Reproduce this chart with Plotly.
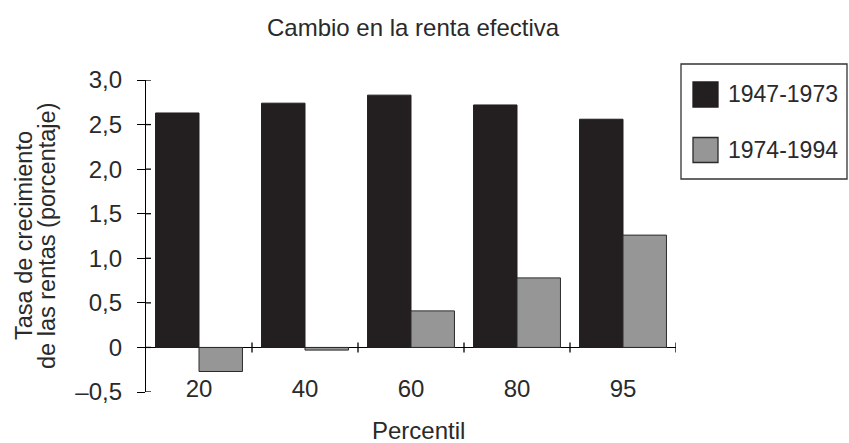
import plotly.graph_objects as go

# Income growth by percentile, two periods
percentiles = ["20", "40", "60", "80", "95"]
series_names = ["1947-1973", "1974-1994"]
growth_1947_1973 = [2.63, 2.74, 2.83, 2.72, 2.56]
growth_1974_1994 = [-0.27, -0.03, 0.41, 0.78, 1.26]

y_ticks = [-0.5, 0, 0.5, 1.0, 1.5, 2.0, 2.5, 3.0]
y_tick_text = ["\u20130,5", "0", "0,5", "1,0", "1,5", "2,0", "2,5", "3,0"]

title_text = "Cambio en la renta efectiva"
x_title = "Percentil"
y_title_lines = ["Tasa de crecimiento", "de las rentas (porcentaje)"]

W, H = 849, 443
L, R, T, B = 146, 173, 80, 51
PW, PH = W - L - R, H - T - B

FONT = "Liberation Sans, Arial, sans-serif"
TXT = "#2a2a2a"
BLACK = "#231f20"
GRAY = "#969696"
EDGE = "#2b2b2b"
FS = 24


def px(x):
    return (x - L) / PW


def py(y):
    return (H - B - y) / PH


xs = list(range(len(percentiles)))

fig = go.Figure()
fig.add_trace(go.Bar(
    x=xs, y=growth_1947_1973, name=series_names[0],
    marker=dict(color=BLACK, line=dict(color=BLACK, width=1)),
    showlegend=False,
))
fig.add_trace(go.Bar(
    x=xs, y=growth_1974_1994, name=series_names[1],
    marker=dict(color=GRAY, line=dict(color=EDGE, width=1)),
    showlegend=False,
))

shapes = []
# category boundary ticks crossing the zero line
for i in range(len(percentiles)):
    shapes.append(dict(
        type="line", xref="x", yref="y", ysizemode="pixel", yanchor=0,
        x0=i + 0.5, x1=i + 0.5, y0=-5, y1=5,
        line=dict(color="black", width=1.3),
    ))
# inner stubs of the value-axis ticks
for v in y_ticks:
    shapes.append(dict(
        type="line", xref="x", yref="y", xsizemode="pixel", xanchor=-0.5,
        x0=0, x1=5, y0=v, y1=v,
        line=dict(color="black", width=1.3),
    ))

# legend frame and swatches
shapes.append(dict(
    type="rect", xref="paper", yref="paper",
    x0=px(681), x1=px(847), y0=py(179), y1=py(64),
    line=dict(color="#333333", width=1.3), fillcolor="white",
))
annotations = []
swatch_colors = [BLACK, GRAY]
entry_y = [94.5, 150]
for name, col, cy in zip(series_names, swatch_colors, entry_y):
    shapes.append(dict(
        type="rect", xref="paper", yref="paper",
        x0=px(693), x1=px(718), y0=py(cy + 12.5), y1=py(cy - 12.5),
        line=dict(color=EDGE if col == GRAY else BLACK, width=1.3), fillcolor=col,
    ))
    annotations.append(dict(
        text=name, xref="paper", yref="paper", x=px(726), y=py(cy),
        xanchor="left", yanchor="middle", showarrow=False,
        font=dict(family=FONT, size=23, color=TXT),
    ))

annotations.append(dict(
    text=title_text, xref="paper", yref="paper", x=px(413.5), y=py(28),
    xanchor="center", yanchor="middle", showarrow=False,
    font=dict(family=FONT, size=FS, color=TXT),
))
annotations.append(dict(
    text=x_title, xref="paper", yref="paper", x=px(418), y=py(430),
    xanchor="center", yanchor="middle", showarrow=False,
    font=dict(family=FONT, size=FS, color=TXT),
))
for line_text, cx in zip(y_title_lines, [24, 47]):
    annotations.append(dict(
        text=line_text, xref="paper", yref="paper", x=px(cx), y=0.5,
        xanchor="center", yanchor="middle", textangle=-90, showarrow=False,
        font=dict(family=FONT, size=23.5, color=TXT),
    ))

fig.update_layout(
    width=W, height=H, autosize=False,
    margin=dict(l=L, r=R, t=T, b=B, pad=0),
    paper_bgcolor="white", plot_bgcolor="white",
    barmode="group", bargap=0.18, bargroupgap=0,
    showlegend=False,
    font=dict(family=FONT, size=FS, color=TXT),
    xaxis=dict(
        range=[-0.5, len(percentiles) - 0.5],
        tickvals=xs, ticktext=percentiles,
        showline=False, ticks="", showgrid=False, zeroline=False,
        ticklabelstandoff=-20,
        tickfont=dict(family=FONT, size=FS, color=TXT),
    ),
    yaxis=dict(
        range=[-0.5, 3.0],
        tickvals=y_ticks, ticktext=y_tick_text,
        showline=True, linecolor="black", linewidth=1.3,
        ticks="outside", ticklen=8, tickwidth=1.3, tickcolor="black",
        showgrid=False,
        zeroline=True, zerolinecolor="black", zerolinewidth=1.3,
        ticklabelstandoff=10,
        tickfont=dict(family=FONT, size=FS, color=TXT),
    ),
    shapes=shapes,
    annotations=annotations,
)

fig.write_html("out.html")
